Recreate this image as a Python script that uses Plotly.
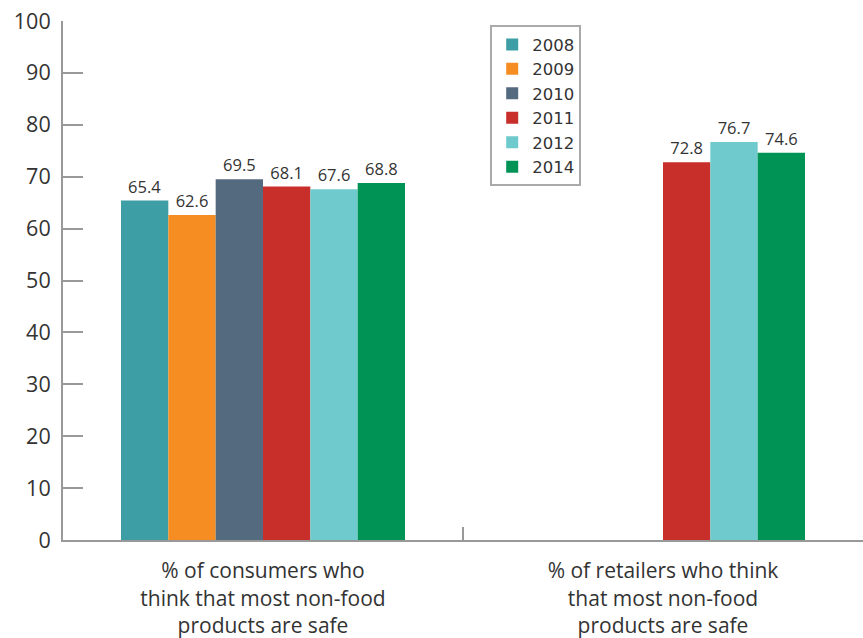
import plotly.graph_objects as go

categories = ["% of consumers who<br>think that most non-food<br>products are safe",
              "% of retailers who think<br>that most non-food<br>products are safe"]
years = ["2008", "2009", "2010", "2011", "2012", "2014"]
values = {
    "2008": [65.4, None],
    "2009": [62.6, None],
    "2010": [69.5, None],
    "2011": [68.1, 72.8],
    "2012": [67.6, 76.7],
    "2014": [68.8, 74.6],
}
colors = ["#3d9ea5", "#f58d22", "#546a7f", "#c82f2a", "#6fcacd", "#009356"]

FONT = "Open Sans"
fig = go.Figure()
for y, c in zip(years, colors):
    vals = values[y]
    fig.add_trace(go.Bar(
        name=y, x=categories, y=vals, marker_color=c, marker_line_width=0,
        text=[("%.1f" % v) if v is not None else "" for v in vals],
        textposition="outside", cliponaxis=False,
        textfont=dict(size=16.5, color="#333333", family=FONT),
    ))

fig.update_layout(
    width=863, height=638,
    margin=dict(l=63, r=0, t=21, b=98),
    barmode="group", bargap=0.29, bargroupgap=0,
    plot_bgcolor="white", paper_bgcolor="white",
    font=dict(family=FONT, color="#333333", size=17),
    legend=dict(x=0.534, y=0.992, xanchor="left", yanchor="top",
                bordercolor="#aaaaaa", borderwidth=2,
                font=dict(size=16.5, color="#333333", family="DejaVu Sans"),
                bgcolor="white", tracegroupgap=0),
    showlegend=True,
)
fig.update_yaxes(range=[0, 100], dtick=10, showgrid=False, zeroline=False,
                 showline=True, linecolor="#999999", linewidth=2,
                 ticks="inside", ticklen=20, tickcolor="#999999", tickwidth=1.5,
                 ticklabelstandoff=6,
                 tickfont=dict(size=21.5, color="#333333"))
fig.update_xaxes(showgrid=False, showline=True, linecolor="#999999", linewidth=2,
                 ticks="inside", tickson="boundaries", ticklen=13,
                 tickcolor="#999999", tickwidth=1.5,
                 ticklabelstandoff=11,
                 tickfont=dict(size=21, color="#333333"))

fig.write_html("out.html")
